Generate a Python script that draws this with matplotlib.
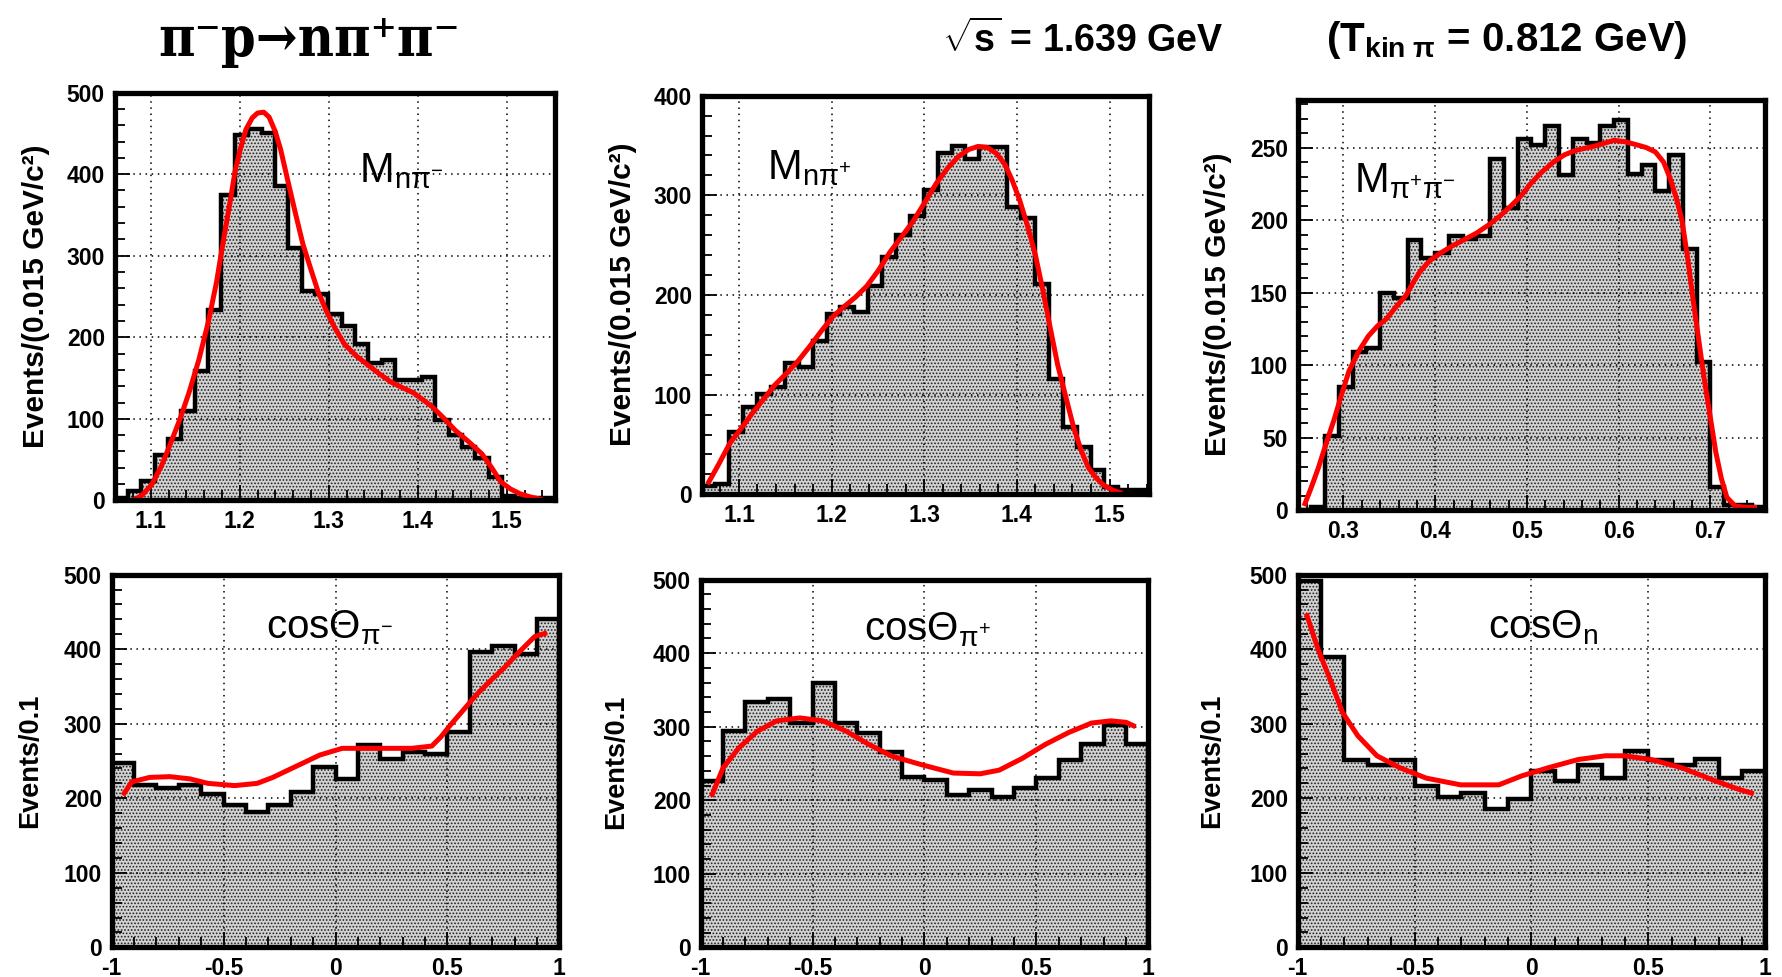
import numpy as np
import matplotlib
matplotlib.use('Agg')
import matplotlib.pyplot as plt
from matplotlib.ticker import MultipleLocator, AutoMinorLocator, FormatStrFormatter

W, H = 1783, 977

plt.rcParams['font.family'] = ['Liberation Sans', 'DejaVu Sans']
plt.rcParams['mathtext.fontset'] = 'custom'
plt.rcParams['mathtext.rm'] = 'Liberation Sans'
plt.rcParams['mathtext.it'] = 'Liberation Sans:italic'
plt.rcParams['mathtext.bf'] = 'Liberation Sans:bold'
plt.rcParams['hatch.linewidth'] = 0.8
plt.rcParams['hatch.color'] = '#222222'

#%% invariant mass spectra, bins of 0.015 GeV
m_npim_start = 1.0595
m_npim_counts = [3, 12, 24, 56, 75, 109, 159, 233, 374, 448, 456, 450, 386, 309,
                 257, 253, 228, 214, 192, 168, 172, 147, 147, 151, 98, 80, 65, 52,
                 29, 5, 3, 3, 3]
m_npim_fit_x = [1.080, 1.090, 1.101, 1.112, 1.122, 1.133, 1.143, 1.154, 1.165, 1.174,
                1.182, 1.189, 1.195, 1.201, 1.207, 1.214, 1.220, 1.227, 1.233, 1.240,
                1.246, 1.254, 1.263, 1.271, 1.280, 1.288, 1.297, 1.307, 1.318, 1.331,
                1.344, 1.357, 1.370, 1.383, 1.395, 1.405, 1.416, 1.429, 1.442, 1.457,
                1.472, 1.483, 1.493, 1.504, 1.515, 1.527, 1.540]
m_npim_fit_y = [0, 6, 19, 42, 69, 100, 132, 172, 220, 268, 321, 365, 405, 432, 455,
                469, 475, 476, 470, 452, 430, 392, 350, 314, 283, 256, 233, 211, 191,
                177, 166, 155, 145, 138, 132, 124, 115, 101, 86, 72, 57, 40, 23, 14,
                8, 4, 1]

m_npip_start = 1.0595
m_npip_counts = [8, 10, 63, 88, 101, 108, 132, 128, 154, 181, 188, 183, 209, 238,
                 260, 279, 305, 342, 349, 336, 348, 348, 288, 277, 211, 116, 68, 48,
                 24, 7, 4, 4, 4]
m_npip_fit_x = [1.066, 1.078, 1.090, 1.103, 1.115, 1.127, 1.139, 1.152, 1.164, 1.176,
                1.189, 1.201, 1.213, 1.226, 1.238, 1.250, 1.263, 1.276, 1.288, 1.300,
                1.313, 1.325, 1.337, 1.348, 1.358, 1.368, 1.378, 1.387, 1.395, 1.403,
                1.411, 1.420, 1.428, 1.436, 1.444, 1.453, 1.461, 1.469, 1.477, 1.486,
                1.494, 1.504, 1.514]
m_npip_fit_y = [10, 30, 51, 67, 82, 96, 110, 122, 134, 148, 164, 178, 188, 198, 209,
                224, 243, 259, 274, 292, 312, 327, 339, 346, 349, 348, 342, 331, 315,
                295, 271, 240, 205, 167, 130, 97, 68, 45, 27, 16, 9, 4, 1]

m_pipi_start = 0.25
m_pipi_counts = [0, 2, 51, 85, 109, 112, 150, 146, 186, 174, 177, 189, 187, 189,
                 242, 208, 256, 252, 265, 231, 256, 253, 265, 269, 232, 238, 220, 245,
                 180, 102, 16, 4, 4, 2]
m_pipi_fit_x = [0.257, 0.265, 0.273, 0.281, 0.290, 0.298, 0.306, 0.316, 0.327, 0.337,
                0.347, 0.357, 0.368, 0.376, 0.384, 0.394, 0.405, 0.418, 0.430, 0.445,
                0.459, 0.471, 0.483, 0.494, 0.504, 0.516, 0.529, 0.541, 0.553, 0.574,
                0.595, 0.607, 0.619, 0.630, 0.640, 0.649, 0.656, 0.663, 0.669, 0.675,
                0.681, 0.687, 0.693, 0.700, 0.706, 0.712, 0.718, 0.727, 0.740, 0.751]
m_pipi_fit_y = [3, 16, 30, 46, 63, 80, 96, 109, 120, 127, 132, 140, 148, 157, 165,
                172, 177, 182, 186, 191, 197, 203, 210, 217, 225, 233, 240, 245, 248,
                251, 255, 254, 252, 250, 247, 240, 229, 215, 200, 175, 146, 119, 92,
                64, 40, 22, 9, 3, 2, 2]

#%% angular distributions, bins of 0.1
cos_edges = np.linspace(-1, 1, 21)
cos_pim_counts = [247, 218, 214, 218, 206, 191, 182, 191, 209, 242, 226, 271, 253,
                  262, 260, 289, 396, 404, 394, 440]
cos_pim_fit_x = [-0.95, -0.91, -0.83, -0.74, -0.65, -0.57, -0.45, -0.35, -0.28, -0.21,
                 -0.14, -0.07, 0.03, 0.17, 0.34, 0.43, 0.47, 0.51, 0.57, 0.63, 0.69,
                 0.75, 0.82, 0.89, 0.945]
cos_pim_fit_y = [204, 222, 228, 229, 226, 220, 217, 220, 228, 238, 248, 258, 267, 267,
                 267, 270, 282, 297, 318, 339, 357, 374, 396, 417, 422]

cos_pip_counts = [226, 294, 333, 338, 305, 360, 305, 292, 266, 232, 228, 207, 214,
                  204, 217, 230, 255, 276, 303, 277]
cos_pip_fit_x = [-0.952, -0.90, -0.83, -0.746, -0.66, -0.557, -0.454, -0.35, -0.249,
                 -0.146, -0.009, 0.129, 0.249, 0.334, 0.437, 0.54, 0.643, 0.746, 0.832,
                 0.90, 0.943]
cos_pip_fit_y = [205, 244, 271, 294, 308, 312, 308, 294, 276, 260, 248, 237, 236, 241,
                 257, 276, 292, 305, 308, 306, 300]

cos_n_counts = [491, 390, 252, 245, 252, 216, 202, 207, 186, 199, 236, 223, 245, 227,
                263, 252, 245, 253, 227, 236]
cos_n_fit_x = [-0.963, -0.914, -0.857, -0.808, -0.743, -0.661, -0.563, -0.45, -0.303,
               -0.14, -0.042, 0.072, 0.20, 0.316, 0.397, 0.511, 0.642, 0.772, 0.886,
               0.951]
cos_n_fit_y = [448, 401, 356, 315, 284, 257, 241, 227, 218, 218, 230, 241, 252, 257,
               257, 252, 241, 225, 212, 206]

#%% figure
fig = plt.figure(figsize=(W / 100, H / 100), dpi=100)
SPINE = 3.8


def px_axes(l, t, r, b):
    # outer pixel edges of the thick frame -> axes rectangle
    h = SPINE * 100 / 72 / 2
    l, t, r, b = l + h, t + h, r - h, b - h
    return fig.add_axes([l / W, 1 - b / H, (r - l) / W, (b - t) / H])


def draw_hist(ax, edges, counts, fit_x, fit_y, xlim, ylim, ystep, xstep, xfmt):
    ax.stairs(counts, edges, baseline=0, fill=True, facecolor='#d2d2d2',
              edgecolor='#222222', linewidth=0, hatch='.....', zorder=1)
    ax.stairs(counts, edges, baseline=0, color='black', linewidth=3.2, zorder=3)
    ax.plot(fit_x, fit_y, color='#ff0000', linewidth=3.6, zorder=4,
            solid_capstyle='butt')
    ax.set_xlim(*xlim)
    ax.set_ylim(*ylim)
    ax.xaxis.set_major_locator(MultipleLocator(xstep))
    ax.yaxis.set_major_locator(MultipleLocator(ystep))
    ax.xaxis.set_minor_locator(AutoMinorLocator(5))
    ax.yaxis.set_minor_locator(AutoMinorLocator(5))
    ax.xaxis.set_major_formatter(FormatStrFormatter(xfmt))
    ax.set_axisbelow(False)
    ax.grid(True, which='major', color='black', linestyle=(0, (1, 3)),
            linewidth=1.1, zorder=2)
    ax.tick_params(which='both', direction='in', top=False, right=False,
                   width=1.3, labelsize=16.5)
    ax.tick_params(which='major', length=11, pad=7)
    ax.tick_params(which='minor', length=7)
    for lab in ax.get_xticklabels() + ax.get_yticklabels():
        lab.set_fontweight('bold')
    for sp in ax.spines.values():
        sp.set_linewidth(SPINE)
        sp.set_zorder(5)


def ylabel(x, y, text, size):
    fig.text(x / W, 1 - y / H, text, rotation=90, ha='center', va='center',
             fontsize=size, fontweight='bold')


def edges_from(start, n, width=0.015):
    return start + width * np.arange(n + 1)


ax1 = px_axes(112, 90, 558, 503)
draw_hist(ax1, edges_from(m_npim_start, len(m_npim_counts)), m_npim_counts,
          m_npim_fit_x, m_npim_fit_y, (1.0595, 1.5545), (0, 500), 100, 0.1, '%.1f')
ax1.text(0.555, 0.78, r'M$_{\mathrm{n\pi^{-}}}$', transform=ax1.transAxes,
         fontsize=30, ha='left', va='baseline', zorder=6)

ax2 = px_axes(699, 93, 1152, 497)
draw_hist(ax2, edges_from(m_npip_start, len(m_npip_counts)), m_npip_counts,
          m_npip_fit_x, m_npip_fit_y, (1.0597, 1.543), (0, 400), 100, 0.1, '%.1f')
ax2.text(0.145, 0.79, r'M$_{\mathrm{n\pi^{+}}}$', transform=ax2.transAxes,
         fontsize=30, ha='left', va='baseline', zorder=6)

ax3 = px_axes(1295, 97, 1768, 513)
draw_hist(ax3, edges_from(m_pipi_start, len(m_pipi_counts)), m_pipi_counts,
          m_pipi_fit_x, m_pipi_fit_y, (0.25, 0.76), (0, 283), 50, 0.1, '%.1f')
ax3.text(0.12, 0.776, r'M$_{\mathrm{\pi^{+}\pi^{-}}}$', transform=ax3.transAxes,
         fontsize=30, ha='left', va='baseline', zorder=6)

ax4 = px_axes(109, 572, 562, 950)
draw_hist(ax4, cos_edges, cos_pim_counts, cos_pim_fit_x, cos_pim_fit_y,
          (-1, 1), (0, 500), 100, 0.5, '%g')
ax4.text(0.345, 0.83, r'cos$\mathrm{\Theta}_{\mathrm{\pi^{-}}}$',
         transform=ax4.transAxes, fontsize=29, ha='left', va='baseline', zorder=6)

ax5 = px_axes(698, 577, 1151, 950)
draw_hist(ax5, cos_edges, cos_pip_counts, cos_pip_fit_x, cos_pip_fit_y,
          (-1, 1), (0, 500), 100, 0.5, '%g')
ax5.text(0.364, 0.836, r'cos$\mathrm{\Theta}_{\mathrm{\pi^{+}}}$',
         transform=ax5.transAxes, fontsize=29, ha='left', va='baseline', zorder=6)

ax6 = px_axes(1295, 572, 1768, 950)
draw_hist(ax6, cos_edges, cos_n_counts, cos_n_fit_x, cos_n_fit_y,
          (-1, 1), (0, 500), 100, 0.5, '%g')
ax6.text(0.408, 0.83, r'cos$\mathrm{\Theta}_{\mathrm{n}}$',
         transform=ax6.transAxes, fontsize=29, ha='left', va='baseline', zorder=6)

ylabel(36, 296, 'Events/(0.015 GeV/c²)', 21.5)
ylabel(623, 294, 'Events/(0.015 GeV/c²)', 21.5)
ylabel(1218, 304, 'Events/(0.015 GeV/c²)', 21.5)
ylabel(30, 761, 'Events/0.1', 19.5)
ylabel(616, 762, 'Events/0.1', 19.5)
ylabel(1212, 761, 'Events/0.1', 19.5)

#%% header
fig.text(309 / W, 1 - 40 / H, 'π⁻p→nπ⁺π⁻', family='DejaVu Serif',
         fontweight='bold', fontstretch='condensed', fontsize=40,
         ha='center', va='center')
fig.text(942 / W, 1 - 40 / H, r'$\mathbf{\sqrt{s}}$ = 1.639 GeV',
         fontweight='bold', fontsize=27, ha='left', va='center')
fig.text(1687 / W, 1 - 40 / H, r'(T$_{\mathbf{kin\ \pi}}$ = 0.812 GeV)',
         fontweight='bold', fontsize=29, ha='right', va='center')

fig.savefig('out.png', dpi=100)
